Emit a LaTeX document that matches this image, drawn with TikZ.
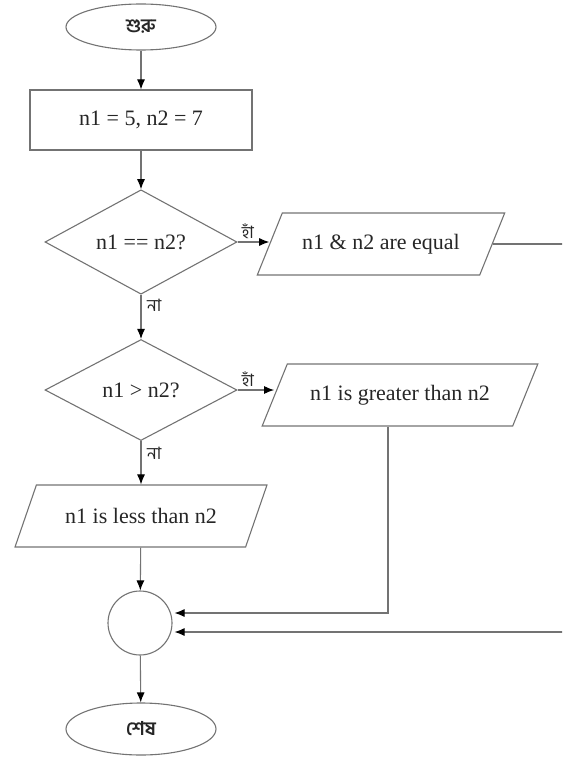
\documentclass[tikz,border=0pt]{standalone}
\usepackage{fontspec}
\setmainfont{Liberation Serif}
\newfontfamily\bn[Script=Bengali]{Hind Siliguri}
\usetikzlibrary{shapes.geometric,arrows.meta}
\begin{document}
\begin{tikzpicture}[x=1pt,y=-1pt,
  every node/.style={text=black!85},
  shp/.style={draw=black!55, line width=1.1pt, inner sep=0pt, font=\fontsize{22}{26}\selectfont},
  term/.style={shp, ellipse, minimum width=150pt, minimum height=46pt, font=\bn\bfseries\fontsize{19}{22}\selectfont},
  proc/.style={shp, rectangle, minimum width=222pt, minimum height=60pt},
  dec/.style={shp, diamond, minimum width=192pt, minimum height=101pt},
  io/.style={shp, trapezium, trapezium left angle=45, trapezium right angle=135, trapezium stretches=true, minimum height=62pt},
  joinnode/.style={shp, circle, minimum size=64pt},
  conn/.style={draw=black!55, line width=1.1pt, -{Latex[length=10pt,width=8pt,color=black]}},
  lbl/.style={font=\bn\fontsize{17}{20}\selectfont, inner sep=1pt},
]
\useasboundingbox (0,0) rectangle (562,757);
\clip (0,0) rectangle (562,757);

\node[term] (start) at (141,27) {শুরু};
\node[proc] (init) at (141,120) {n1 = 5, n2 = 7};
\node[dec] (d1) at (141,242) {n1 == n2?};
\node[io, minimum width=248pt] (p1) at (381,244) {n1 \& n2 are equal};
\node[dec] (d2) at (141,390) {n1 > n2?};
\node[io, minimum width=276pt] (p2) at (400,395) {n1 is greater than n2};
\node[io, minimum width=252pt] (p3) at (141,516) {n1 is less than n2};
\node[joinnode] (j) at (140,623) {};
\node[term, minimum height=52pt] (end) at (141,729) {শেষ};
\coordinate (rt) at (590,0);

\draw[conn] (start) -- (init);
\draw[conn] (init) -- (d1);
\draw[conn] (d1.east) -- (d1.east -| p1.west);
\draw[conn] (d1) -- (d2);
\draw[conn] (d2.east) -- (d2.east -| p2.west);
\draw[conn] (d2) -- (p3);
\draw[conn] (p3) -- (j);
\draw[conn] (j) -- (end);
\draw[conn, shorten >=2pt] ([xshift=-12pt]p2.south) |- ([yshift=10pt]j.east);
\draw[conn, shorten >=2pt] (p1.east) -- (p1.east -| rt) |- ([yshift=-9pt]j.east);

\node[lbl, anchor=south west] at ([xshift=3pt,yshift=2pt]d1.east) {হাঁ};
\node[lbl, anchor=north west] at ([xshift=5pt,yshift=-3pt]d1.south) {না};
\node[lbl, anchor=south west] at ([xshift=3pt,yshift=2pt]d2.east) {হাঁ};
\node[lbl, anchor=north west] at ([xshift=5pt,yshift=-5pt]d2.south) {না};
\end{tikzpicture}
\end{document}
